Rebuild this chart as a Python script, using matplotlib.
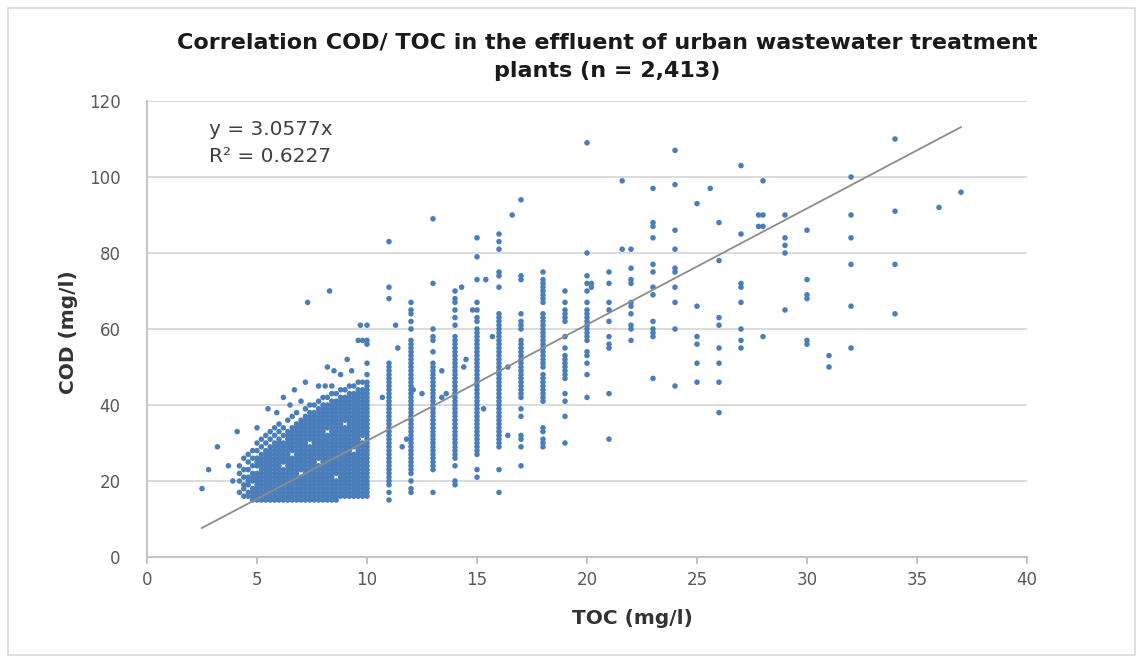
import matplotlib
matplotlib.use("Agg")
import matplotlib.pyplot as plt
from matplotlib.patches import Rectangle
import numpy as np

# ---------------- data ----------------
# dense low-TOC cloud: TOC value -> list of COD values
toc_cluster = [4.2, 4.4, 4.6, 4.8, 5.0, 5.2, 5.4, 5.6, 5.8, 6.0, 6.2, 6.4, 6.6, 6.8, 7.0,
               7.2, 7.4, 7.6, 7.8, 8.0, 8.2, 8.4, 8.6, 8.8, 9.0, 9.2, 9.4, 9.6, 9.8]
cod_cluster = [
    [17, 20, 22, 24],
    [16, 18, 19, 21, 23, 26],
    [16, 17, 19, 20, 21, 23, 25, 27],
    [15, 16, 17, 18, 20, 21, 22, 24, 26, 28],
    [15, 16, 17, 18, 19, 20, 21, 22, 24, 25, 26, 28, 30],
    [15, 16, 17, 18, 19, 20, 21, 22, 23, 24, 25, 26, 27, 29, 31],
    [15, 16, 17, 18, 19, 20, 21, 22, 23, 24, 25, 26, 27, 28, 30, 32],
    [15, 16, 17, 18, 19, 20, 21, 22, 23, 24, 25, 26, 27, 28, 29, 31, 33],
    [15, 16, 17, 18, 19, 20, 21, 22, 23, 24, 25, 26, 27, 28, 29, 30, 32, 34],
    [15, 16, 17, 18, 19, 20, 21, 22, 23, 24, 25, 26, 27, 28, 29, 30, 31, 33, 35],
    [15, 16, 17, 18, 19, 20, 21, 22, 23, 25, 26, 27, 28, 29, 30, 32, 34],
    [15, 16, 17, 18, 19, 20, 21, 22, 23, 24, 25, 26, 27, 28, 29, 30, 31, 32, 33, 36],
    [15, 16, 17, 18, 19, 20, 21, 22, 23, 24, 25, 26, 28, 29, 30, 31, 32, 33, 34, 37],
    [15, 16, 17, 18, 19, 20, 21, 22, 23, 24, 25, 26, 27, 28, 29, 30, 31, 32, 33, 34, 35,
     38],
    [15, 16, 17, 18, 19, 20, 21, 23, 24, 25, 26, 27, 28, 29, 30, 31, 32, 33, 34, 35, 36],
    [15, 16, 17, 18, 19, 20, 21, 22, 23, 24, 25, 26, 27, 28, 29, 30, 31, 32, 33, 34, 35,
     36, 37, 39],
    [15, 16, 17, 18, 19, 20, 21, 22, 23, 24, 25, 26, 27, 28, 29, 31, 32, 33, 34, 35, 36,
     37, 38, 40],
    [15, 16, 17, 18, 19, 20, 21, 22, 23, 24, 25, 26, 27, 28, 29, 30, 31, 32, 33, 34, 35,
     36, 37, 38, 40],
    [15, 16, 17, 18, 19, 20, 21, 22, 23, 24, 26, 27, 28, 29, 30, 31, 32, 33, 34, 35, 36,
     37, 38, 39, 41],
    [15, 16, 17, 18, 19, 20, 21, 22, 23, 24, 25, 26, 27, 28, 29, 30, 31, 32, 33, 34, 35,
     36, 37, 38, 39, 40, 42],
    [15, 16, 17, 18, 19, 20, 21, 22, 23, 24, 25, 26, 27, 28, 29, 30, 31, 32, 34, 35, 36,
     37, 38, 39, 40, 42],
    [15, 16, 17, 18, 19, 20, 21, 22, 23, 24, 25, 26, 27, 28, 29, 30, 31, 32, 33, 34, 35,
     36, 37, 38, 39, 40, 41, 43],
    [15, 16, 17, 18, 19, 20, 22, 23, 24, 25, 26, 27, 28, 29, 30, 31, 32, 33, 34, 35, 36,
     37, 38, 39, 40, 41, 43],
    [16, 17, 18, 19, 20, 21, 22, 23, 24, 25, 26, 27, 28, 29, 30, 31, 32, 33, 34, 35, 36,
     37, 38, 39, 40, 41, 42, 44],
    [16, 17, 18, 19, 20, 21, 22, 23, 24, 25, 26, 27, 28, 29, 30, 31, 32, 33, 34, 36, 37,
     38, 39, 40, 41, 42, 44],
    [16, 17, 18, 19, 20, 21, 22, 23, 24, 25, 26, 27, 28, 29, 30, 31, 32, 33, 34, 35, 36,
     37, 38, 39, 40, 41, 42, 43, 45],
    [16, 17, 18, 19, 20, 21, 22, 23, 24, 25, 26, 27, 29, 30, 31, 32, 33, 34, 35, 36, 37,
     38, 39, 40, 41, 42, 43, 45],
    [16, 17, 18, 19, 20, 21, 22, 23, 24, 25, 26, 27, 28, 29, 30, 31, 32, 33, 34, 35, 36,
     37, 38, 39, 40, 41, 42, 43, 44, 46],
    [16, 17, 18, 19, 20, 21, 22, 23, 24, 25, 26, 27, 28, 29, 30, 32, 33, 34, 35, 36, 37,
     38, 39, 40, 41, 42, 43, 44, 46],
]

# integer TOC columns: TOC value -> list of COD values
toc_levels = [10, 11, 12, 13, 14, 15, 16, 17, 18, 19, 20, 21, 22, 23, 24, 25, 26, 27,
              28, 29, 30, 31, 32, 34, 36, 37]
cod_by_level = [
    [16, 17, 18, 19, 20, 21, 22, 23, 24, 25, 26, 27, 28, 29, 30, 31, 32, 33, 34, 35, 36,
     37, 38, 39, 40, 41, 42, 43, 44, 45, 46, 48, 51, 56, 57, 61],
    [15, 17, 19, 20, 21, 22, 23, 24, 25, 26, 27, 28, 29, 30, 31, 32, 33, 34, 35, 36, 37,
     38, 39, 40, 41, 42, 43, 44, 45, 46, 47, 48, 49, 50, 51, 68, 71, 83],
    [17, 18, 20, 22, 23, 24, 25, 26, 27, 28, 29, 30, 31, 32, 33, 34, 35, 36, 37, 38, 39,
     40, 41, 42, 43, 44, 45, 46, 47, 48, 49, 50, 51, 52, 53, 54, 55, 56, 57, 60, 62, 64,
     65, 67],
    [17, 23, 24, 25, 26, 27, 28, 29, 30, 31, 32, 33, 34, 35, 36, 37, 38, 39, 40, 41, 42,
     43, 44, 45, 46, 47, 48, 49, 50, 51, 54, 57, 58, 60, 72, 89],
    [19, 20, 24, 26, 27, 28, 29, 30, 31, 32, 33, 34, 35, 36, 37, 38, 39, 40, 41, 42, 43,
     44, 45, 46, 47, 48, 49, 50, 51, 52, 53, 54, 55, 56, 57, 58, 61, 63, 65, 67, 68, 70],
    [21, 23, 27, 28, 29, 30, 31, 32, 33, 34, 35, 36, 37, 38, 39, 40, 41, 42, 43, 44, 45,
     46, 47, 48, 49, 50, 51, 52, 53, 54, 55, 56, 57, 58, 59, 60, 62, 63, 65, 67, 73, 79,
     84],
    [17, 23, 29, 30, 31, 32, 33, 34, 35, 36, 37, 38, 39, 40, 41, 42, 43, 44, 45, 46, 47,
     48, 49, 50, 51, 52, 53, 54, 55, 56, 57, 58, 59, 60, 61, 62, 63, 64, 71, 74, 75, 81,
     83, 85],
    [24, 29, 31, 32, 37, 39, 42, 43, 44, 45, 46, 47, 48, 49, 50, 51, 52, 53, 54, 55, 56,
     57, 60, 61, 62, 64, 73, 74, 94],
    [29, 30, 31, 33, 34, 41, 42, 43, 44, 45, 46, 47, 48, 50, 51, 52, 53, 54, 55, 56, 57,
     58, 59, 60, 61, 62, 63, 64, 67, 68, 69, 70, 71, 72, 73, 75],
    [30, 37, 41, 43, 47, 48, 49, 50, 51, 52, 53, 55, 58, 62, 63, 64, 65, 67, 70],
    [42, 48, 51, 53, 54, 57, 58, 59, 60, 61, 62, 63, 64, 65, 67, 70, 72, 74, 80, 109],
    [31, 43, 55, 56, 58, 62, 65, 67, 72, 75],
    [57, 60, 61, 64, 66, 67, 72, 73, 76, 81],
    [47, 58, 59, 60, 62, 69, 71, 75, 77, 84, 87, 88, 97],
    [45, 60, 67, 71, 75, 76, 81, 86, 98, 107],
    [46, 51, 56, 58, 66, 93],
    [38, 46, 51, 55, 61, 63, 78, 88],
    [55, 57, 60, 67, 71, 72, 85, 103],
    [58, 87, 90, 99],
    [65, 80, 82, 84, 90],
    [56, 57, 68, 69, 73, 86],
    [50, 53],
    [55, 66, 77, 84, 90, 100],
    [64, 77, 91, 110],
    [92],
    [96],
]

# scattered single points
toc_extra = [2.5, 2.8, 3.2, 3.7, 3.9, 4.1, 5.0, 5.5, 5.9, 6.2, 6.5, 6.7, 7.0, 7.2, 7.8,
             8.1, 8.4, 8.2, 8.5, 8.8, 9.1, 9.3, 9.6, 9.7, 9.8, 7.3, 8.3, 10.7, 11.3, 11.4,
             11.6, 11.8, 12.1, 12.5, 13.4, 13.4, 13.6, 14.3, 14.4, 14.5, 14.8, 15.3, 15.4,
             15.7, 16.4, 16.4, 16.6, 20.2, 20.2, 21.6, 21.6, 25.6, 27.8, 27.8]
cod_extra = [18, 23, 29, 24, 20, 33, 34, 39, 38, 42, 40, 44, 41, 46, 45,
             45, 45, 50, 49, 48, 52, 49, 57, 61, 57, 67, 70, 42, 61, 55,
             29, 31, 44, 43, 49, 42, 43, 71, 50, 52, 65, 39, 73,
             58, 50, 32, 90, 72, 71, 81, 99, 97, 87, 90]

slope = 3.0577
r_squared = 0.6227
trend_range = [2.5, 37.0]

title = "Correlation COD/ TOC in the effluent of urban wastewater treatment\nplants (n = 2,413)"
x_label = "TOC (mg/l)"
y_label = "COD (mg/l)"
x_ticks = [0, 5, 10, 15, 20, 25, 30, 35, 40]
y_ticks = [0, 20, 40, 60, 80, 100, 120]

# ---------------- assemble ----------------
xs, ys = [], []
for t, cods in zip(toc_cluster, cod_cluster):
    xs += [t] * len(cods); ys += cods
for t, cods in zip(toc_levels, cod_by_level):
    xs += [t] * len(cods); ys += cods
xs += toc_extra; ys += cod_extra

W, H = 1143, 663
FONT = "DejaVu Sans"
fig = plt.figure(figsize=(W / 100, H / 100), dpi=100)
fig.patch.set_facecolor("white")
fig.add_artist(Rectangle((8 / W, 8 / H), (1135 - 8) / W, (655 - 8) / H,
                         transform=fig.transFigure, fill=False,
                         edgecolor="#d9d9d9", linewidth=1.2))

ax = fig.add_axes([147 / W, 1 - 557 / H, (1027 - 147) / W, (557 - 101) / H])
ax.set_xlim(0, 40)
ax.set_ylim(0, 120)
ax.set_xticks(x_ticks)
ax.set_yticks(y_ticks)
ax.yaxis.grid(True, color="#d9d9d9", linewidth=1.3)
ax.set_axisbelow(True)
for s in ["top", "right"]:
    ax.spines[s].set_visible(False)
for s in ["left", "bottom"]:
    ax.spines[s].set_color("#bfbfbf")
    ax.spines[s].set_linewidth(1.3)
ax.tick_params(axis="x", length=5, color="#bfbfbf", width=1.3, pad=5,
               labelsize=12, labelcolor="#595959")
ax.tick_params(axis="y", length=0, pad=19, labelsize=12, labelcolor="#595959")
for lab in ax.get_xticklabels() + ax.get_yticklabels():
    lab.set_fontfamily(FONT)

ax.scatter(xs, ys, s=16, color="#4a7ebb", edgecolors="none", zorder=3)
tx = np.array(trend_range)
ax.plot(tx, slope * tx, color="#8c8c8c", linewidth=1.3, zorder=4)

ax.text(2.8, 112.5, f"y = {slope}x", fontsize=14.5, family=FONT,
        color="#404040", va="center", ha="left")
ax.text(2.8, 105.3, f"R\u00b2 = {r_squared}", fontsize=14.5, family=FONT,
        color="#404040", va="center", ha="left")

fig.text(607 / W, 1 - 57 / H, title, ha="center", va="center", fontsize=16,
         fontweight="bold", family=FONT, color="#1a1a1a", linespacing=1.55)
fig.text(632 / W, 1 - 618 / H, x_label, ha="center", va="center", fontsize=14.5,
         fontweight="bold", family=FONT, color="#333333")
fig.text(68 / W, 1 - 332 / H, y_label, ha="center", va="center", fontsize=14.5,
         fontweight="bold", family=FONT, color="#333333", rotation=90)

fig.savefig("out.png", dpi=100)
